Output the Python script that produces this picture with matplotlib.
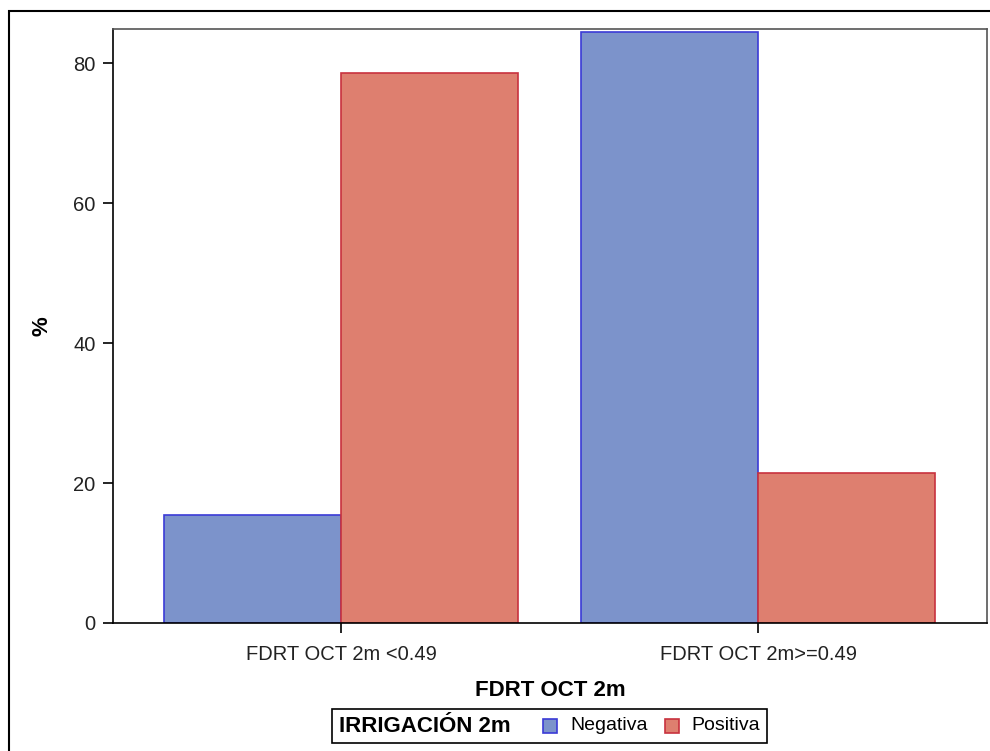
import matplotlib
matplotlib.use("Agg")
import matplotlib.pyplot as plt
import numpy as np
from matplotlib.patches import Rectangle
from matplotlib.offsetbox import (AnchoredOffsetbox, HPacker, TextArea,
                                  DrawingArea)

plt.rcParams['font.family'] = ['Liberation Sans', 'DejaVu Sans']

categories = ["FDRT OCT 2m <0.49", "FDRT OCT 2m>=0.49"]
negativa = [15.5, 84.5]
positiva = [78.6, 21.4]
series_names = ["Negativa", "Positiva"]
yticks = [0, 20, 40, 60, 80]

fill_colors = ["#7C93CB", "#DE7F6F"]
edge_colors = ["#3B3BD6", "#C8323E"]

W, H = 990, 751
fig = plt.figure(figsize=(W / 100, H / 100), dpi=100)

# outer frame (only left and top edges fall inside the canvas)
fig.patches.append(Rectangle((9 / W, -0.1), 1.2, (H - 11) / H + 0.1,
                             transform=fig.transFigure, fill=False,
                             edgecolor="black", linewidth=1.5, zorder=0))

ax = fig.add_axes([113 / W, 1 - 623 / H, (987 - 113) / W, (623 - 29) / H])

x = np.arange(len(categories))
bw = 0.4245
ax.bar(x - bw / 2, negativa, bw, color=fill_colors[0],
       edgecolor=edge_colors[0], linewidth=1.2, zorder=2)
ax.bar(x + bw / 2, positiva, bw, color=fill_colors[1],
       edgecolor=edge_colors[1], linewidth=1.2, zorder=2)

ax.set_xlim(-0.547, 1.549)
ax.set_ylim(0, 84.9)
ax.set_xticks(x)
ax.set_xticklabels(categories)
ax.set_yticks(yticks)
ax.tick_params(axis='both', labelsize=14.5, length=7.5, width=1.2,
               color="black", labelcolor="#222222", pad=5)
ax.tick_params(axis='x', pad=8)
for s in ax.spines.values():
    s.set_linewidth(1.2)
ax.spines['top'].set_color("#555555")
ax.spines['right'].set_color("#555555")

ax.set_xlabel("FDRT OCT 2m", fontsize=16, fontweight="bold")
ax.xaxis.set_label_coords(0.5, (623 - 690) / 594, transform=ax.transAxes)
ax.xaxis.label.set_va("center")
ax.set_ylabel("%", fontsize=16, fontweight="bold")
ax.yaxis.set_label_coords((42 - 113) / 874, 0.5, transform=ax.transAxes)
ax.yaxis.label.set_va("center")

# legend row: title followed by swatches (sizes in points)
entries = []
for name, fc, ec in zip(series_names, fill_colors, edge_colors):
    da = DrawingArea(11, 11, 0, 0)
    da.add_artist(Rectangle((0.5, 0.5), 10, 10, facecolor=fc, edgecolor=ec,
                            linewidth=1.2))
    entries.append(HPacker(children=[da, TextArea(name,
                                                  textprops=dict(fontsize=14))],
                           align="center", pad=0, sep=9))
title = TextArea("IRRIGACIÓN 2m", textprops=dict(fontsize=16, fontweight="bold"))
row = HPacker(children=[title,
                        HPacker(children=entries, align="center", pad=0, sep=12)],
              align="center", pad=0, sep=23)
anch = AnchoredOffsetbox(loc="center", child=row, pad=0.5, borderpad=0,
                         frameon=True, bbox_to_anchor=(549.5 / W, 1 - 726 / H),
                         bbox_transform=fig.transFigure)
anch.patch.set_edgecolor("black")
anch.patch.set_linewidth(1.2)
fig.add_artist(anch)

fig.savefig("out.png", dpi=100)
